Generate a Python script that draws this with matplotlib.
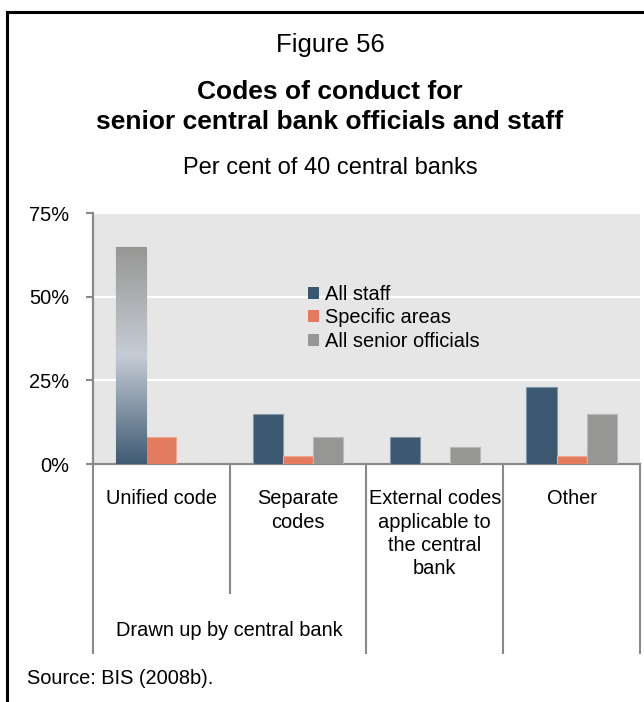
import numpy as np
import matplotlib
matplotlib.use("Agg")
import matplotlib.pyplot as plt
from matplotlib.lines import Line2D
from matplotlib.patches import Patch
from matplotlib.colors import LinearSegmentedColormap

plt.rcParams['font.family'] = ['Liberation Sans', 'DejaVu Sans']

# Per cent of 40 central banks
categories = ["Unified code", "Separate\ncodes", "External codes\napplicable to\nthe central\nbank", "Other"]
series = ["All staff", "Specific areas", "All senior officials"]
all_staff = [65, 15, 8, 23]
specific_areas = [8, 2.5, 0, 2.5]
senior_officials = [0, 8, 5, 15]
y_ticks = [0, 25, 50, 75]
group_label = "Drawn up by central bank"

colors = ['#3c5870', '#e47b5f', '#969794']
edges = ['#8196a6', '#f0a893', '#b9bab7']

W, H = 644, 702
fig = plt.figure(figsize=(W / 100, H / 100), dpi=100)

# axes box in pixels: left 93, right 640, bottom 464, top 213
x0, x1, yb, yt = 92.7, 640, 464, 213.3
ax = fig.add_axes([x0 / W, 1 - yb / H, (x1 - x0) / W, (yb - yt) / H])
ax.set_facecolor('#e6e6e6')

x = np.arange(len(categories)) + 0.5
bw = 0.22
bar_sets = []
for i, (vals, c, ec) in enumerate(zip([all_staff, specific_areas, senior_officials], colors, edges)):
    bars = ax.bar(x + (i - 1) * bw, vals, bw, color=c, edgecolor=ec, linewidth=0.8,
                  label=series[i], zorder=3)
    bar_sets.append(bars)

# shaded fill for the tall unified-code bar
p = bar_sets[0].patches[0]
grad = LinearSegmentedColormap.from_list('shade', ['#3f5a73', '#c6ccd5', '#969794'])
img = ax.imshow(np.linspace(0, 1, 256).reshape(-1, 1), cmap=grad, origin='lower',
                extent=[p.get_x(), p.get_x() + p.get_width(), 0, p.get_height()],
                aspect='auto', zorder=4)
img.set_clip_path(p)

ax.set_xlim(0, len(categories))
ax.set_ylim(0, 75)
ax.set_yticks(y_ticks)
ax.set_yticklabels([f"{t}%" for t in y_ticks], fontsize=14.4)
ax.set_xticks([])
ax.yaxis.grid(True, color='white', linewidth=1.6, zorder=1)
ax.set_axisbelow(True)
ax.tick_params(axis='y', length=5, width=1.5, color='#8a8a8a', pad=12)
for s in ['top', 'right']:
    ax.spines[s].set_visible(False)
for s in ['left', 'bottom']:
    ax.spines[s].set_color('#8a8a8a')
    ax.spines[s].set_linewidth(1.6)

# category separators below the axis
tr = ax.get_xaxis_transform()
def frac(py):
    return (yb - py) / (yb - yt)
for xs, bottom in zip(range(len(categories) + 1), [652.7, 593, 652.7, 652.7, 652.7]):
    ax.add_line(Line2D([xs, xs], [0, frac(bottom)], transform=tr, color='#8a8a8a',
                       linewidth=1.5, clip_on=False))

for xi, lab in zip(x, categories):
    ax.text(xi, frac(489), lab, transform=tr, ha='center', va='top', fontsize=14.4,
            linespacing=1.3)
ax.text(1.0, frac(630), group_label, transform=tr, ha='center', va='center', fontsize=14.4)

handles = [Patch(facecolor=c, edgecolor='none') for c in colors]
ax.legend(handles, series, loc='upper left', bbox_to_anchor=(308 / W, 1 - 285 / H),
          bbox_transform=fig.transFigure, frameon=False, fontsize=14.4,
          handlelength=0.55, handleheight=0.55, handletextpad=0.3, labelspacing=0.22,
          borderpad=0, borderaxespad=0)

# titles
fig.text(330 / W, 1 - 45 / H, "Figure 56", ha='center', va='center', fontsize=18.5)
fig.text(330 / W, 1 - 107 / H, "Codes of conduct for\nsenior central bank officials and staff",
         ha='center', va='center', fontsize=19, fontweight='bold', linespacing=1.27)
fig.text(330 / W, 1 - 168 / H, "Per cent of 40 central banks", ha='center', va='center', fontsize=17)
fig.text(27 / W, 1 - 678 / H, "Source: BIS (2008b).", ha='left', va='center', fontsize=14.4)

# frame
fig.add_artist(Line2D([7 / W, 7 / W], [0, 1 - 12 / H], transform=fig.transFigure, color='black', linewidth=2.2))
fig.add_artist(Line2D([7 / W, 1], [1 - 12 / H, 1 - 12 / H], transform=fig.transFigure, color='black', linewidth=2.2))

fig.savefig("out.png", dpi=100)
